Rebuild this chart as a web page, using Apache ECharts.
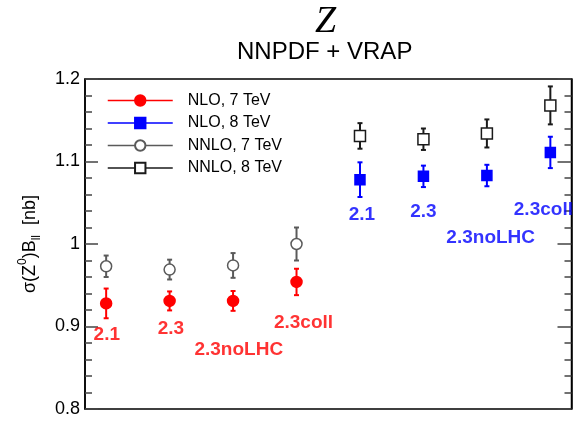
<!DOCTYPE html>
<html>
<head>
<meta charset="utf-8">
<script src="https://cdn.jsdelivr.net/npm/echarts@6/dist/echarts.min.js"></script>
<style>html,body{margin:0;padding:0;background:#fff}#c{width:574px;height:424px}</style>
</head>
<body>
<div id="c"></div>
<script>
// ---- data ----
const pdfSets = ['2.1', '2.3', '2.3noLHC', '2.3coll'];
const xPos7 = [0, 1, 2, 3];
const xPos8 = [4, 5, 6, 7];
const nlo7 = [0.928, 0.931, 0.931, 0.954];
const nlo7Err = [0.018, 0.0115, 0.012, 0.016];
const nnlo7 = [0.973, 0.969, 0.974, 1.000];
const nnlo7Err = [0.013, 0.012, 0.015, 0.020];
const nlo8 = [1.078, 1.082, 1.083, 1.111];
const nlo8Err = [0.021, 0.013, 0.013, 0.019];
const nnlo8 = [1.131, 1.127, 1.134, 1.168];
const nnlo8Err = [0.0155, 0.013, 0.017, 0.023];
// annotation anchor points (data units)
const labelX7 = [0.01, 1.02, 2.09, 3.11];
const labelY7 = [0.890, 0.897, 0.872, 0.905];
const labelX8 = [4.03, 5.00, 6.06, 6.89];
const labelY8 = [1.036, 1.039, 1.008, 1.041];
const yTicks = [0.8, 0.9, 1.0, 1.1, 1.2];
const seriesNames = ['NLO, 7 TeV', 'NLO, 8 TeV', 'NNLO, 7 TeV', 'NNLO, 8 TeV'];

const FONT = 'Liberation Sans, Arial, Helvetica, sans-serif';
const RED = '#ff0000', BLUE = '#0000ff', GREY = '#5a5a5a', BLACK = '#1a1a1a';
const COLORS = [RED, BLUE, GREY, BLACK];

function zip(xs, ys, es) { return xs.map((x, i) => es ? [x, ys[i], es[i]] : [x, ys[i]]); }

function errSeries(xs, ys, es, color, width) {
  return {
    type: 'custom',
    z: 2,
    silent: true,
    data: zip(xs, ys, es),
    renderItem: function (params, api) {
      const x = api.value(0), y = api.value(1), e = api.value(2);
      const t = api.coord([x, y + e]), b = api.coord([x, y - e]);
      const st = { stroke: color, lineWidth: width };
      const cw = 2.5;
      return {
        type: 'group', children: [
          { type: 'line', shape: { x1: t[0], y1: t[1], x2: b[0], y2: b[1] }, style: st },
          { type: 'line', shape: { x1: t[0] - cw, y1: t[1], x2: t[0] + cw, y2: t[1] }, style: st },
          { type: 'line', shape: { x1: b[0] - cw, y1: b[1], x2: b[0] + cw, y2: b[1] }, style: st }
        ]
      };
    }
  };
}

function pointSeries(name, xs, ys, symbol, size, color, fill) {
  return {
    name: name,
    type: 'line',
    z: 3,
    data: zip(xs, ys),
    symbol: symbol,
    symbolSize: size,
    showSymbol: true,
    lineStyle: { opacity: 0, width: 0 },
    itemStyle: { color: fill, borderColor: color, borderWidth: 1.5 }
  };
}

function labelSeries(xs, ys, color) {
  return {
    type: 'scatter',
    z: 4,
    silent: true,
    symbolSize: 0,
    data: xs.map((x, i) => ({ value: [x, ys[i]], name: pdfSets[i] })),
    label: {
      show: true, position: 'inside', formatter: '{b}',
      color: color, fontFamily: FONT, fontWeight: 'bold', fontSize: 19,
      textBorderWidth: 0, textBorderColor: 'transparent'
    }
  };
}

const chart = echarts.init(document.getElementById('c'), null, { renderer: 'canvas' });

const yCommon = {
  type: 'value', min: yTicks[0], max: yTicks[yTicks.length - 1], interval: 0.1,
  splitLine: { show: false },
  axisLine: { show: true, onZero: false, lineStyle: { color: '#000', width: 1.5 } },
  axisTick: { show: true, inside: true, length: 13, lineStyle: { color: '#444', width: 1.5 } },
  minorTick: { show: true, splitNumber: 5, length: 7, lineStyle: { color: '#444', width: 1.5 } }
};

chart.setOption({
  animation: false,
  backgroundColor: '#fff',
  graphic: [
    { type: 'text', x: 325.5, y: 22, style: { text: 'Z', fill: '#000', font: 'italic 38px "Liberation Serif", "Times New Roman", serif', textAlign: 'center', textVerticalAlign: 'middle' } },
    { type: 'text', x: 324.7, y: 52, style: { text: 'NNPDF + VRAP', fill: '#000', font: '24px ' + FONT, textAlign: 'center', textVerticalAlign: 'middle' } }
  ],
  grid: { left: 85, right: 2.5, top: 79, bottom: 15, show: true, borderColor: '#000', borderWidth: 1.5, backgroundColor: 'transparent' },
  legend: {
    orient: 'vertical', left: 107, top: 92.5, padding: 0,
    itemWidth: 65, itemHeight: 13, itemGap: 6.5,
    textStyle: { fontFamily: FONT, fontSize: 16, color: '#000', padding: [0, 0, 0, 10] },
    data: seriesNames.map((n, i) => ({
      name: n,
      lineStyle: { color: COLORS[i], opacity: 1, width: 1.5 }
    }))
  },
  xAxis: {
    type: 'value', min: -1 / 3, max: 22 / 3,
    axisLine: { show: false }, axisTick: { show: false }, axisLabel: { show: false }, splitLine: { show: false }
  },
  yAxis: [
    Object.assign({}, yCommon, {
      position: 'left',
      axisLabel: { show: true, margin: 5, color: '#000', fontFamily: FONT, fontSize: 18 },
      name: '{t|σ(Z}{sup|0}{t|)B}{sub|ll}{t|  [nb]}',
      nameLocation: 'middle', nameGap: 42, nameRotate: 90,
      nameTextStyle: {
        color: '#000', fontFamily: FONT, fontSize: 18,
        rich: {
          t: { fontFamily: FONT, fontSize: 18, color: '#000', lineHeight: 26 },
          sup: { fontFamily: FONT, fontSize: 12, color: '#000', verticalAlign: 'top', lineHeight: 13 },
          sub: { fontFamily: FONT, fontSize: 12, color: '#000', verticalAlign: 'bottom', lineHeight: 13 }
        }
      }
    }),
    Object.assign({}, yCommon, {
      position: 'right',
      axisLabel: { show: false },
      axisTick: { show: true, inside: true, length: 14, lineStyle: { color: '#444', width: 1.5 } }
    })
  ],
  series: [
    errSeries(xPos7, nlo7, nlo7Err, RED, 2),
    errSeries(xPos8, nlo8, nlo8Err, BLUE, 2),
    errSeries(xPos7, nnlo7, nnlo7Err, GREY, 2),
    errSeries(xPos8, nnlo8, nnlo8Err, BLACK, 2),
    pointSeries(seriesNames[0], xPos7, nlo7, 'circle', 11, RED, RED),
    pointSeries(seriesNames[1], xPos8, nlo8, 'rect', 10, BLUE, BLUE),
    pointSeries(seriesNames[2], xPos7, nnlo7, 'circle', 11, GREY, '#fff'),
    pointSeries(seriesNames[3], xPos8, nnlo8, 'rect', 11, BLACK, '#fff'),
    labelSeries(labelX7, labelY7, RED),
    labelSeries(labelX8, labelY8, BLUE)
  ]
});
</script>
</body>
</html>
